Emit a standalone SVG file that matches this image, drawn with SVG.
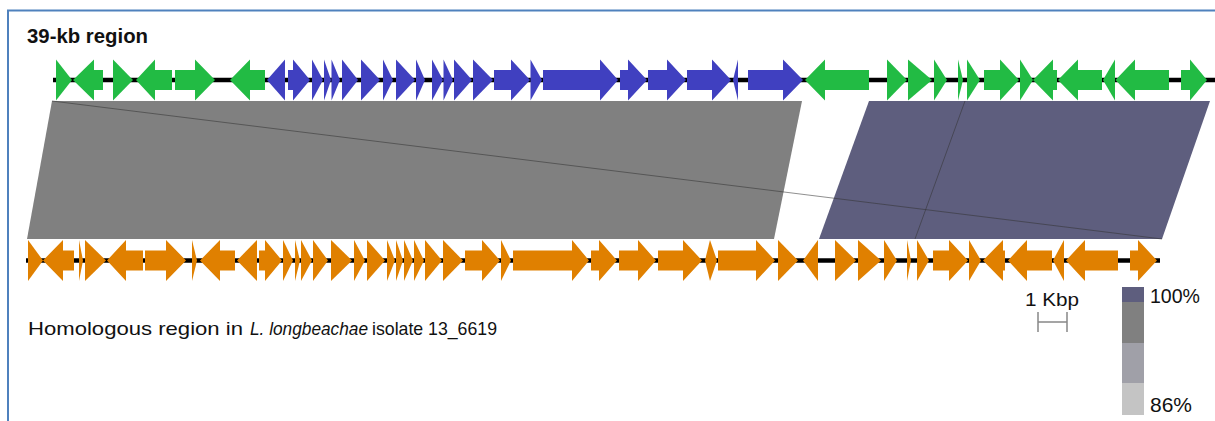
<svg xmlns="http://www.w3.org/2000/svg" width="1215" height="421" viewBox="0 0 1215 421">
<style>
.g{fill:#22BB44}
.b{fill:#4040C0}
.o{fill:#E08000}
.bb{stroke:#000;stroke-width:4.5}
.t{font-family:"Liberation Sans",Arial,sans-serif;fill:#111}
.lk{fill:none;stroke:#333;stroke-width:1;stroke-opacity:0.55}
</style>
<rect x="0" y="0" width="1215" height="421" fill="#fff"/>
<path d="M8,421 V10.5 H1215" fill="none" stroke="#4F81BD" stroke-width="2"/>
<text class="t" x="27" y="43" font-size="20" font-weight="bold" textLength="121" lengthAdjust="spacingAndGlyphs">39-kb region</text>
<g id="links">
<polygon points="52,101 802,101 774,239 27,239" fill="#808080"/>
<polygon points="869,101 1210,101 1162,239 819,239" fill="#5E5E7E"/>
<line class="lk" x1="52" y1="101" x2="1162" y2="239"/>
<line class="lk" x1="965" y1="101" x2="915" y2="239"/>
</g>
<g id="track1">
<line class="bb" x1="53" y1="80" x2="1215" y2="80"/>
<g id="a1" class="g">
<polygon points="56,59.5 72,80 56,100.5"/>
<polygon points="73,80 94,59.5 94,70 103,70 103,90 94,90 94,100.5"/>
<polygon points="113,59.5 133,80 113,100.5"/>
<polygon points="136,80 155,59.5 155,70 172,70 172,90 155,90 155,100.5"/>
<polygon points="175,70 195,70 195,59.5 215,80 195,100.5 195,90 175,90"/>
<polygon points="230,80 250,59.5 250,70 265,70 265,90 250,90 250,100.5"/>
</g>
<g id="a2" class="b">
<polygon points="267,80 285,59.5 285,100.5"/>
<polygon points="288,70 293,70 293,59.5 310,80 293,100.5 293,90 288,90"/>
<polygon points="312,59.5 323,80 312,100.5"/>
<polygon points="324,59.5 331,80 324,100.5"/>
<polygon points="331.5,59.5 340,80 331.5,100.5"/>
<polygon points="342,59.5 358,80 342,100.5"/>
<polygon points="361,59.5 380,80 361,100.5"/>
<polygon points="383,59.5 393,80 383,100.5"/>
<polygon points="396,59.5 415,80 396,100.5"/>
<polygon points="416,59.5 425,80 416,100.5"/>
<polygon points="432,59.5 443,80 432,100.5"/>
<polygon points="443.5,59.5 453,80 443.5,100.5"/>
<polygon points="454,59.5 472,80 454,100.5"/>
<polygon points="473,59.5 493,80 473,100.5"/>
<polygon points="494,70 511,70 511,59.5 530,80 511,100.5 511,90 494,90"/>
<polygon points="530.5,59.5 542,80 530.5,100.5"/>
<polygon points="543,70 600,70 600,59.5 618,80 600,100.5 600,90 543,90"/>
<polygon points="620,70 628,70 628,59.5 647,80 628,100.5 628,90 620,90"/>
<polygon points="648,70 667,70 667,59.5 686,80 667,100.5 667,90 648,90"/>
<polygon points="687,70 712,70 712,59.5 731,80 712,100.5 712,90 687,90"/>
<polygon points="733,80 738,59.5 738,100.5"/>
<polygon points="748,70 783,70 783,59.5 803,80 783,100.5 783,90 748,90"/>
</g>
<g id="a3" class="g">
<polygon points="805,80 825,59.5 825,70 869,70 869,90 825,90 825,100.5"/>
<polygon points="887,59.5 907,80 887,100.5"/>
<polygon points="908,59.5 932,80 908,100.5"/>
<polygon points="934,59.5 947,80 934,100.5"/>
<polygon points="958,59.5 963,80 958,100.5"/>
<polygon points="967,59.5 980,80 967,100.5"/>
<polygon points="984,70 1000,70 1000,59.5 1019,80 1000,100.5 1000,90 984,90"/>
<polygon points="1020,59.5 1033,80 1020,100.5"/>
<polygon points="1033,80 1053,59.5 1053,70 1057,70 1057,90 1053,90 1053,100.5"/>
<polygon points="1058,80 1078,59.5 1078,70 1102,70 1102,90 1078,90 1078,100.5"/>
<polygon points="1103,80 1115,59.5 1115,100.5"/>
<polygon points="1115.5,80 1135,59.5 1135,70 1169,70 1169,90 1135,90 1135,100.5"/>
<polygon points="1181,70 1190,70 1190,59.5 1207,80 1190,100.5 1190,90 1181,90"/>
</g>
</g>
<g id="track2" class="o">
<line class="bb" x1="26" y1="260.5" x2="1160" y2="260.5"/>
<g id="b1">
<polygon points="28,240 43,260.5 28,281"/>
<polygon points="43,260.5 63,240 63,250.5 74,250.5 74,270.5 63,270.5 63,281"/>
<polygon points="79,240 83,260.5 79,281"/>
<polygon points="85,240 106,260.5 85,281"/>
<polygon points="107,260.5 126,240 126,250.5 143,250.5 143,270.5 126,270.5 126,281"/>
<polygon points="145,250.5 166,250.5 166,240 186,260.5 166,281 166,270.5 145,270.5"/>
<polygon points="192,240 197,260.5 192,281"/>
<polygon points="200,260.5 220,240 220,250.5 235,250.5 235,270.5 220,270.5 220,281"/>
<polygon points="237,260.5 257,240 257,281"/>
<polygon points="259,250.5 265,250.5 265,240 282,260.5 265,281 265,270.5 259,270.5"/>
<polygon points="283,240 293,260.5 283,281"/>
<polygon points="295,240 300,260.5 295,281"/>
<polygon points="301,240 312,260.5 301,281"/>
<polygon points="313,240 328,260.5 313,281"/>
<polygon points="331,240 352,260.5 331,281"/>
<polygon points="354,240 365,260.5 354,281"/>
<polygon points="367,240 385,260.5 367,281"/>
<polygon points="387,240 395,260.5 387,281"/>
<polygon points="396,240 403,260.5 396,281"/>
<polygon points="404,240 413,260.5 404,281"/>
<polygon points="414,240 424,260.5 414,281"/>
<polygon points="425,240 442,260.5 425,281"/>
<polygon points="443,240 463,260.5 443,281"/>
<polygon points="465,250.5 482,250.5 482,240 500,260.5 482,281 482,270.5 465,270.5"/>
<polygon points="501,240 511,260.5 501,281"/>
<polygon points="513,250.5 572,250.5 572,240 589,260.5 572,281 572,270.5 513,270.5"/>
<polygon points="591,250.5 599,250.5 599,240 617,260.5 599,281 599,270.5 591,270.5"/>
<polygon points="619,250.5 638,250.5 638,240 656,260.5 638,281 638,270.5 619,270.5"/>
<polygon points="658,250.5 683,250.5 683,240 702,260.5 683,281 683,270.5 658,270.5"/>
<polygon points="705,260.5 710,240 710,281"/>
<polygon points="710,240 717,260.5 710,281"/>
<polygon points="718,250.5 756,250.5 756,240 775,260.5 756,281 756,270.5 718,270.5"/>
<polygon points="778,240 798,260.5 778,281"/>
<polygon points="803,260.5 818,240 818,281"/>
<polygon points="835,240 856,260.5 835,281"/>
<polygon points="858,240 881,260.5 858,281"/>
<polygon points="884,240 897,260.5 884,281"/>
<polygon points="907,240 911,260.5 907,281"/>
<polygon points="917,240 929,260.5 917,281"/>
<polygon points="933,250.5 949,250.5 949,240 968,260.5 949,281 949,270.5 933,270.5"/>
<polygon points="969,240 981,260.5 969,281"/>
<polygon points="983,260.5 1003,240 1003,250.5 1005,250.5 1005,270.5 1003,270.5 1003,281"/>
<polygon points="1008,260.5 1027,240 1027,250.5 1052,250.5 1052,270.5 1027,270.5 1027,281"/>
<polygon points="1053,260.5 1064,240 1064,281"/>
<polygon points="1066,260.5 1085,240 1085,250.5 1118,250.5 1118,270.5 1085,270.5 1085,281"/>
<polygon points="1130,250.5 1138,250.5 1138,240 1157,260.5 1138,281 1138,270.5 1130,270.5"/>
</g>
</g>
<text class="t" y="335" font-size="18.5"><tspan x="28" textLength="215" lengthAdjust="spacingAndGlyphs">Homologous region in</tspan><tspan x="250" textLength="118" lengthAdjust="spacingAndGlyphs" font-style="italic">L. longbeachae</tspan><tspan x="372" textLength="125" lengthAdjust="spacingAndGlyphs">isolate 13_6619</tspan></text>
<g id="scale">
<text class="t" x="1025" y="306" font-size="19" textLength="54" lengthAdjust="spacingAndGlyphs">1 Kbp</text>
<path d="M1038,312 V332 M1067,312 V332 M1038,322 H1067" fill="none" stroke="#888" stroke-width="1.5"/>
</g>
<g id="colorbar">
<rect x="1122" y="287" width="22" height="15" fill="#5E5E7E"/>
<rect x="1122" y="302" width="22" height="41" fill="#808080"/>
<rect x="1122" y="343" width="22" height="40" fill="#A0A0A8"/>
<rect x="1122" y="383" width="22" height="32" fill="#C4C4C4"/>
<text class="t" x="1150" y="303" font-size="20" textLength="50" lengthAdjust="spacingAndGlyphs">100%</text>
<text class="t" x="1150" y="412" font-size="20" textLength="42" lengthAdjust="spacingAndGlyphs">86%</text>
</g>
</svg>
